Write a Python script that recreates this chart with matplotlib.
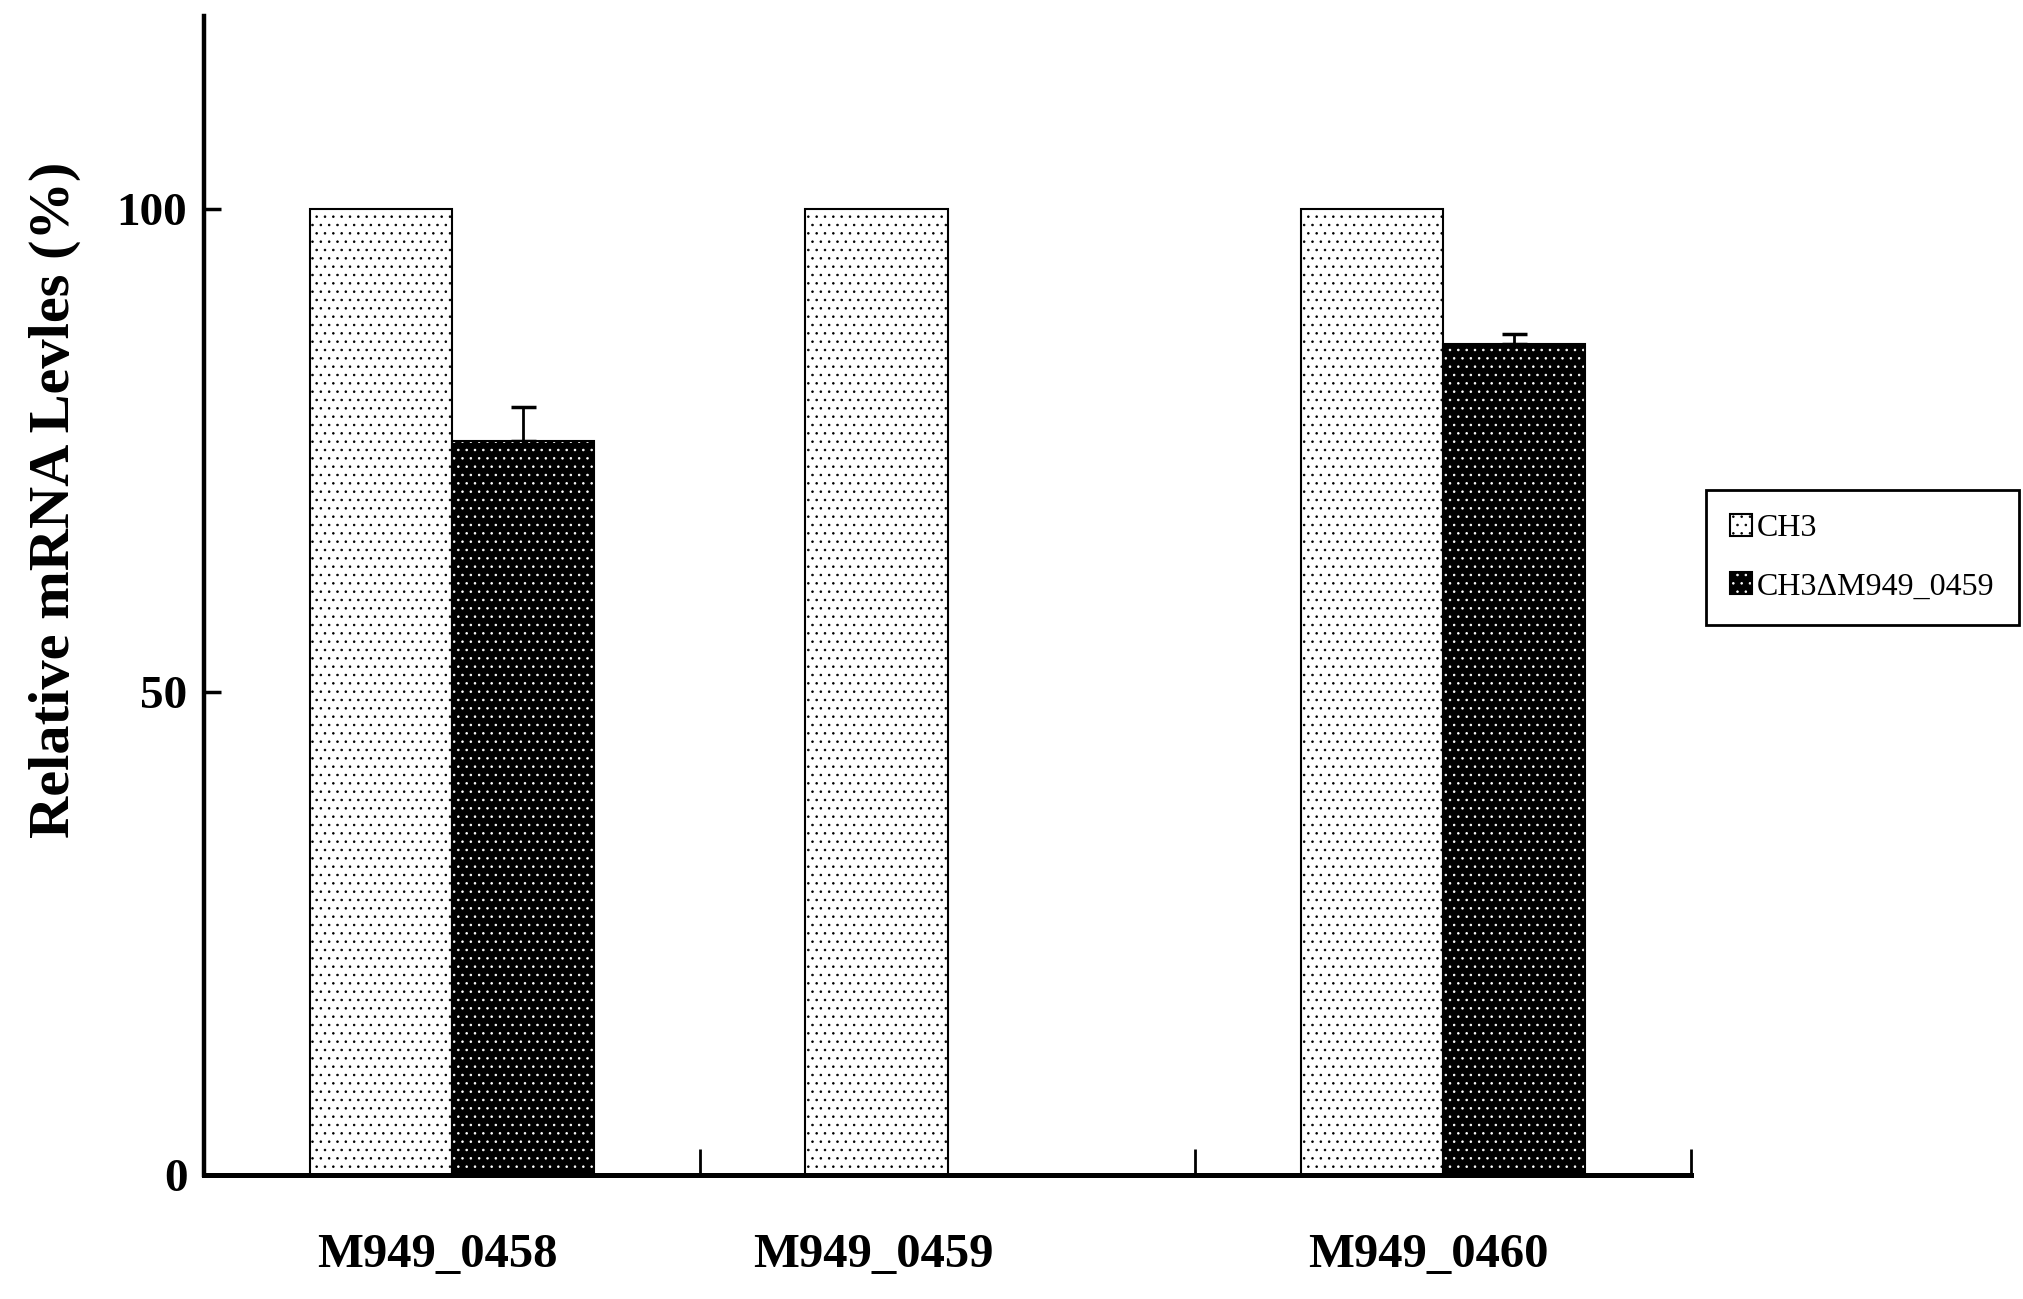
import matplotlib
matplotlib.use('Agg')
import matplotlib.pyplot as plt
from matplotlib.patches import Patch
import numpy as np

genes = ['M949_0458', 'M949_0459', 'M949_0460']
ch3 = [100, 100, 100]
mutant = [76, None, 86]
mutant_err = [3.5, None, 1.0]
series_names = ['CH3', 'CH3\u0394M949_0459']

plt.rcParams['font.family'] = ['Liberation Serif', 'DejaVu Serif']
plt.rcParams['hatch.linewidth'] = 0.6

fig = plt.figure(figsize=(20.24, 12.99), dpi=100)
ax = fig.add_axes([0.1008, 0.0955, 0.7347, 0.8925])

w = 0.287
x = np.arange(len(genes))

ax.bar(x - w / 2, ch3, w, facecolor='white', edgecolor='black', hatch='..', linewidth=1.5, zorder=2)

mi = [i for i, v in enumerate(mutant) if v is not None]
mx = x[mi] + w / 2
mv = [mutant[i] for i in mi]
me = [mutant_err[i] for i in mi]
ax.bar(mx, mv, w, facecolor='black', edgecolor='white', hatch='..', linewidth=0, zorder=2)
ax.bar(mx, mv, w, fill=False, edgecolor='black', linewidth=1.5, zorder=3)
ax.errorbar(mx, mv, yerr=[[0] * len(me), me], fmt='none', ecolor='black',
            elinewidth=2, capsize=9, capthick=2.5, zorder=1)

ax.set_xlim(-0.5, 2.5)
ax.set_ylim(0, 120)

for s in ['top', 'right']:
    ax.spines[s].set_visible(False)
ax.spines['left'].set_linewidth(3.2)
ax.spines['bottom'].set_linewidth(3.6)

# separators as inward ticks, gene names as label-only minor ticks
ax.set_xticks([0.5, 1.5, 2.5])
ax.set_xticklabels([])
ax.tick_params(axis='x', which='major', direction='in', length=19, width=2)
ax.set_xticks([-0.03, 0.85, 1.97], minor=True)
ax.set_xticklabels(genes, minor=True, fontsize=35, fontweight='bold')
ax.tick_params(axis='x', which='minor', length=0, pad=42)

ax.set_yticks([0, 50, 100])
ax.tick_params(axis='y', direction='in', length=12, width=2.5, pad=12)
for lab in ax.get_yticklabels():
    lab.set_fontsize(34)
    lab.set_fontweight('bold')

fig.text(0.027, 0.615, 'Relative mRNA Levles (%)', rotation=90, ha='center', va='center',
         fontsize=42, fontweight='bold')

h1 = Patch(facecolor='white', edgecolor='black', hatch='..', linewidth=1.5)
h2a = Patch(facecolor='black', edgecolor='white', hatch='..', linewidth=0)
h2b = Patch(fill=False, edgecolor='black', linewidth=1.5)
leg = fig.legend([h1, (h2a, h2b)], series_names, loc='upper left',
                 bbox_to_anchor=(1706 / 2024, 1 - 490 / 1299), fontsize=23,
                 frameon=True, fancybox=False, edgecolor='black', framealpha=1,
                 handlelength=0.7, handleheight=0.7, handletextpad=0.15,
                 labelspacing=0.9, borderpad=0.75, borderaxespad=0)
leg.get_frame().set_linewidth(2)

fig.savefig('out.png', dpi=100, facecolor='white')
